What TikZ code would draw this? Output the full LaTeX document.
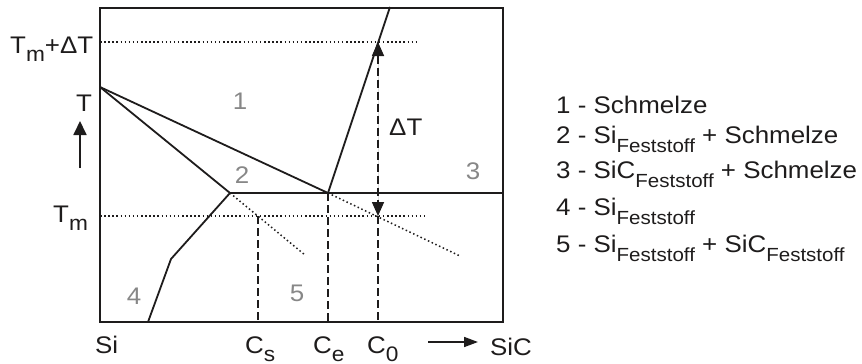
\documentclass[tikz,border=0pt]{standalone}
\usepackage{fontspec}
\setmainfont{Liberation Sans}[FakeStretch=1.08]
\usetikzlibrary{arrows.meta}
\definecolor{numgray}{RGB}{135,135,135}
\definecolor{ink}{RGB}{30,28,28}
\newcommand{\lsub}[1]{\raisebox{-9pt}{\fontsize{19}{19}\selectfont #1}}
\newcommand{\asub}[1]{\raisebox{-8pt}{\fontsize{21}{21}\selectfont #1}}
\tikzset{
  solidline/.style={line width=1.8pt, line join=round},
  dotline/.style={line width=1.5pt, dash pattern=on 1.5pt off 2.6pt},
  dashline/.style={line width=1.6pt, dash pattern=on 8pt off 4pt},
  lbl/.style={inner sep=0pt, anchor=base west, text=ink, font=\fontsize{24}{24}\selectfont},
  num/.style={inner sep=0pt, text=numgray, font=\fontsize{24}{24}\selectfont},
  leg/.style={inner sep=0pt, anchor=base west, text=ink, font=\fontsize{24}{24}\selectfont},
}
\begin{document}
\begin{tikzpicture}[x=1pt,y=-1pt,draw=ink]
\useasboundingbox (0,0) rectangle (862,364);
% key points
\coordinate (BL) at (100,322);
\coordinate (TR) at (503,8);
\coordinate (Tsi) at (100,87);
\coordinate (Esi) at (230,193);
\coordinate (Ee) at (328,193);
\coordinate (Rr) at (503,193);
\coordinate (Kn) at (171,259);
\coordinate (Bs) at (148,322);
\coordinate (Top) at (390,7);
\coordinate (D1) at (305,255);
\coordinate (D2) at (460,256);
\coordinate (TmdL) at (100,42);
\coordinate (TmdR) at (418,42);
\coordinate (TmL) at (100,216);
\coordinate (TmR) at (425,216);
\coordinate (CsT) at (258,216);
\coordinate (CsB) at (258,322);
\coordinate (CeB) at (328,322);
\coordinate (C0T) at (378,42);
\coordinate (C0M) at (378,216);
\coordinate (C0B) at (378,322);
\coordinate (Ta) at (80,168);
\coordinate (Tb) at (80,121);
\coordinate (Xa) at (428,342);
\coordinate (Xb) at (478,342);
% frame
\draw[line width=2pt] (BL) rectangle (TR);
% dotted
\draw[dotline] (TmdL) -- (TmdR);
\draw[dotline] (TmL) -- (TmR);
\draw[dotline] (Esi) -- (D1);
\draw[dotline] (Ee) -- (D2);
% solid phase lines
\draw[solidline] (Tsi) -- (Ee);
\draw[solidline] (Tsi) -- (Esi);
\draw[solidline] (Esi) -- (Rr);
\draw[solidline] (Esi) -- (Kn) -- (Bs);
\draw[solidline] (Ee) -- (Top);
% dashed
\draw[dashline] (CsT) -- (CsB);
\draw[dashline] (Ee) -- (CeB);
\draw[dashline, fill=ink, {Triangle[width=12pt,length=14pt]}-{Triangle[width=12pt,length=14pt]}] (C0T) -- (C0M);
\draw[dashline] (C0M) -- (C0B);
% axis arrows
\draw[line width=1.8pt, fill=ink, -{Triangle[width=13pt,length=14pt]}] (Ta) -- (Tb);
\draw[line width=1.6pt, fill=ink, -{Triangle[width=10pt,length=14pt]}] (Xa) -- (Xb);
% axis labels
\node[lbl] (lTmd) at (10,53) {T\asub{m}+ΔT};
\node[lbl] (lT) at (76,111) {T};
\node[lbl] (lTm) at (53,222) {T\asub{m}};
\node[lbl] (lSi) at (95,353) {Si};
\node[lbl] (lCs) at (245,353) {C\asub{s}};
\node[lbl] (lCe) at (313,353) {C\asub{e}};
\node[lbl] (lC0) at (367,353) {C\asub{0}};
\node[lbl] (lSiC) at (490,355) {SiC};
\node[lbl] (lDT) at (389,135) {ΔT};
% region numbers
\node[num] (n1) at (240,101) {1};
\node[num] (n2) at (242,175) {2};
\node[num] (n3) at (473,171) {3};
\node[num] (n4) at (134,296) {4};
\node[num] (n5) at (297,293) {5};
% legend
\node[leg] (g1) at (556,113) {1 - Schmelze};
\node[leg] (g2) at (556,143) {2 - Si\lsub{Feststoff} + Schmelze};
\node[leg] (g3) at (556,178) {3 - SiC\lsub{Feststoff} + Schmelze};
\node[leg] (g4) at (556,215) {4 - Si\lsub{Feststoff}};
\node[leg] (g5) at (556,252) {5 - Si\lsub{Feststoff} + SiC\lsub{Feststoff}};
\end{tikzpicture}
\end{document}
